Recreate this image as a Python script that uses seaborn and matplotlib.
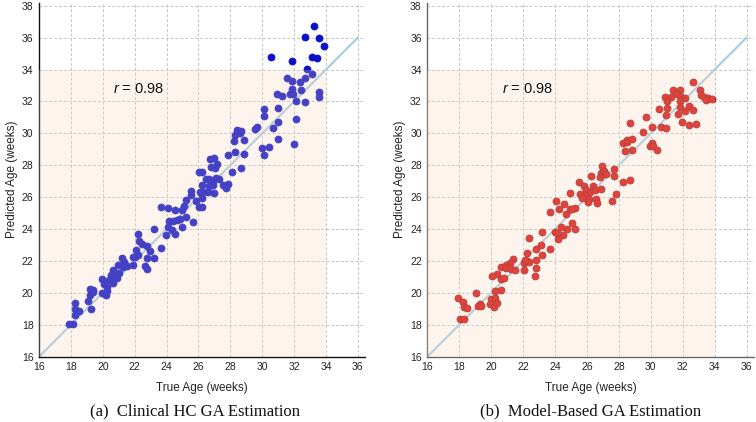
import numpy as np
import pandas as pd
import matplotlib
matplotlib.use("Agg")
import matplotlib.pyplot as plt
from matplotlib.patches import Rectangle
import seaborn as sns

# ---- data ----
clin_true = [33.26, 32.69, 33.57, 33.85, 30.56, 31.86, 33.11, 33.43, 32.84, 33.11, 31.56, 31.86, 32.40, 32.69,
             31.86, 32.42, 30.96, 31.25, 31.73, 31.92, 33.55, 33.57, 32.13, 32.67, 30.14, 30.98, 30.14, 32.11,
             31.00, 29.70, 29.56, 30.69, 28.45, 28.70, 28.58, 28.30, 28.22, 28.87, 30.00, 30.41, 31.00, 31.98,
             30.14, 28.28, 28.85, 27.84, 26.71, 27.00, 27.15, 26.82, 27.03, 28.70, 28.13, 26.06, 26.23, 26.46,
             26.67, 26.94, 27.28, 27.11, 27.57, 27.84, 27.70, 26.25, 26.65, 26.94, 25.54, 26.10, 26.29, 26.61,
             26.96, 25.54, 26.25, 25.25, 25.84, 23.68, 24.12, 24.51, 24.95, 25.08, 26.06, 26.23,
             24.18, 24.39, 24.64, 24.85, 25.23, 25.69, 24.08, 24.35, 23.97, 24.51, 24.95, 23.24, 22.23, 22.30,
             22.44, 23.66, 22.80, 22.09, 22.97, 21.88, 22.03, 22.23, 22.76, 23.22, 21.92, 21.19, 21.33, 21.50,
             21.29, 20.98, 22.65, 22.80, 20.67, 21.04, 20.77, 20.52, 20.88, 20.60, 20.39, 19.97, 20.08, 20.67,
             20.29, 19.97, 20.25, 20.20, 19.20, 19.37, 19.20, 19.37, 19.10, 19.24, 18.26, 18.26, 18.53, 18.26,
             17.90, 18.11]
clin_pred = [36.70, 36.03, 35.95, 35.45, 34.78, 34.51, 34.76, 34.72, 34.03, 33.73, 33.50, 33.31, 33.25, 33.44,
             32.77, 32.69, 32.46, 32.35, 32.46, 32.46, 32.62, 32.27, 32.02, 31.95, 31.54, 31.56, 31.10, 30.93,
             30.70, 30.41, 30.28, 30.34, 30.18, 30.13, 30.00, 29.90, 29.49, 29.57, 29.11, 29.15, 29.65, 29.32,
             28.65, 28.86, 28.69, 28.63, 28.38, 28.48, 28.06, 27.87, 27.83, 27.81, 27.58, 27.58, 27.58, 27.14,
             27.14, 27.04, 27.12, 27.18, 26.74, 26.81, 26.60, 26.79, 26.70, 26.77, 26.37, 26.35, 26.31, 26.31,
             26.28, 26.12, 25.93, 25.82, 25.76, 25.36, 25.30, 25.20, 25.20, 25.45, 25.36, 25.36,
             24.48, 24.48, 24.59, 24.65, 24.75, 24.42, 24.10, 23.92, 23.60, 23.71, 24.10, 24.00, 23.71, 23.27,
             23.08, 22.81, 22.91, 22.66, 22.62, 22.24, 22.28, 22.35, 22.20, 22.20, 21.72, 22.18, 21.93, 21.66,
             21.62, 21.72, 21.68, 21.47, 21.45, 21.26, 21.20, 21.10, 20.93, 20.79, 20.83, 20.89, 20.58, 20.64,
             20.39, 20.02, 20.10, 19.89, 20.27, 20.21, 19.89, 20.03, 19.47, 18.99, 19.36, 19.00, 18.84, 18.64,
             18.03, 18.03]

model_true = [32.66, 31.40, 31.82, 31.67, 31.92, 32.13, 30.88, 31.26, 33.07, 33.13, 33.35, 33.60, 33.49, 33.81,
              31.00, 31.82, 30.52, 31.00, 31.82, 32.38, 32.13, 32.66, 30.96, 31.71, 29.67, 28.69, 31.97, 32.38,
              32.82, 30.09, 30.67, 30.96, 29.52, 28.48, 28.27, 28.54, 28.83, 28.37, 28.83, 30.09, 29.94, 30.15,
              30.36, 26.95, 26.86, 27.04, 27.22, 26.24, 26.80, 27.68, 27.70, 28.27, 28.69, 25.53, 25.80, 26.39,
              26.91, 25.93, 26.18, 26.49, 25.55, 25.86, 24.97, 25.69, 26.11, 26.60, 27.54, 27.81, 26.07, 26.66,
              24.09, 24.57, 24.92, 25.24, 24.23, 23.67, 25.09,
              24.71, 25.09, 25.24, 24.78, 24.36, 23.98, 24.51, 24.19, 24.15, 23.21, 22.37, 23.10, 23.67, 22.79,
              22.25, 23.21, 22.79, 21.37, 21.16, 20.95, 22.06, 22.27, 22.37, 22.12, 20.64, 20.95, 21.23, 21.48,
              22.04, 22.83, 22.77, 20.39, 20.08, 20.64, 20.81, 20.64, 20.22, 19.07, 19.99, 20.22, 20.39, 19.95,
              20.16, 19.28, 19.18, 19.39, 17.92, 18.24, 18.30, 18.51, 18.07, 18.28]
model_pred = [33.21, 32.73, 32.69, 32.48, 32.27, 32.21, 32.31, 32.25, 32.69, 32.41, 32.27, 32.21, 32.06, 32.16,
              32.00, 32.00, 31.54, 31.58, 31.64, 31.72, 31.41, 31.47, 31.12, 31.22, 31.05, 30.64, 30.70, 30.53,
              30.57, 30.38, 30.38, 30.32, 30.07, 29.59, 29.42, 29.44, 29.63, 28.92, 28.96, 29.42, 29.23, 29.23,
              28.96, 27.98, 27.54, 27.61, 27.46, 27.33, 27.29, 27.75, 27.35, 26.93, 27.08, 26.97, 26.72, 26.72,
              26.51, 26.45, 26.35, 26.45, 26.20, 26.14, 26.28, 25.93, 25.87, 25.87, 25.78, 26.20, 25.68, 25.62,
              25.78, 25.57, 25.26, 25.30, 25.24, 25.09, 25.24,
              24.97, 24.35, 24.02, 24.01, 24.12, 23.82, 23.66, 23.38, 23.75, 23.82, 23.41, 23.03, 22.76, 22.76,
              22.51, 22.40, 22.05, 22.13, 21.88, 21.77, 21.88, 22.03, 21.92, 22.05, 21.61, 21.57, 21.50, 21.46,
              21.42, 21.57, 21.04, 21.19, 21.04, 20.90, 20.94, 20.16, 20.10, 20.00, 19.62, 19.68, 19.37, 19.31,
              19.12, 19.31, 19.20, 19.16, 19.68, 19.41, 19.12, 19.06, 18.38, 18.38]

r_values = [0.98, 0.98]
captions = ["(a)  Clinical HC GA Estimation", "(b)  Model-Based GA Estimation"]
ticks = list(range(16, 37, 2))
yticks = list(range(16, 39, 2))

sns.set_style("white")
plt.rcParams["font.family"] = ["Liberation Sans", "DejaVu Sans"]
plt.rcParams["mathtext.fontset"] = "custom"
plt.rcParams["mathtext.it"] = "Liberation Sans:italic"
plt.rcParams["mathtext.rm"] = "Liberation Sans"

fig = plt.figure(figsize=(7.56, 4.22), dpi=100)
ax1 = fig.add_axes([0.0516, 0.1547, 0.4312, 0.8393])
ax2 = fig.add_axes([0.5652, 0.1547, 0.4318, 0.8393])

panels = [
    (ax1, clin_true, clin_pred, "#0a10c8", "#0a10c8", "#111111"),
    (ax2, model_true, model_pred, "#d81212", "#9a1010", "#666666"),
]
cap_x = [195 / 756, 591 / 756]

for i, (ax, xt, yp, col, ecol, spcol) in enumerate(panels):
    df = pd.DataFrame({"true": xt, "pred": yp})
    ax.plot([16, 36], [16, 36], color="#a9cde0", lw=1.6, zorder=1.5)
    sns.scatterplot(data=df, x="true", y="pred", ax=ax, color=col, edgecolor=ecol,
                    linewidth=0.5, s=26, zorder=2)
    ax.add_patch(Rectangle((16, 16), 18, 18, facecolor=(248/255, 215/255, 190/255),
                           alpha=0.25, edgecolor="none", zorder=3))
    ax.set_xlim(16, 36.45)
    ax.set_ylim(16, 38.2)
    ax.set_xticks(ticks)
    ax.set_yticks(yticks)
    ax.grid(True, color="#c4c4c4", linestyle=(0, (3, 2)), linewidth=0.7)
    ax.set_axisbelow(True)
    for s in ["top", "right"]:
        ax.spines[s].set_visible(False)
    for s in ["left", "bottom"]:
        ax.spines[s].set_color(spcol)
        ax.spines[s].set_linewidth(1.0)
    ax.tick_params(axis="both", direction="inout", length=4, width=0.8, color=spcol,
                   labelsize=7.5, labelcolor="#222222", pad=2)
    ax.set_xlabel("True Age (weeks)", fontsize=8.5, color="#222222", labelpad=7)
    ax.set_ylabel("Predicted Age (weeks)", fontsize=8.5, color="#222222", labelpad=3)
    ax.text(20.65, 32.75, f"$r$ = {r_values[i]:.2f}", fontsize=10.5, color="#111111",
            va="center", ha="left", zorder=4)
    fig.text(cap_x[i], 0.024, captions[i], ha="center", va="center",
             fontsize=12, family=["Liberation Serif", "DejaVu Serif"], color="#111111")

fig.savefig("out.png", dpi=100)
